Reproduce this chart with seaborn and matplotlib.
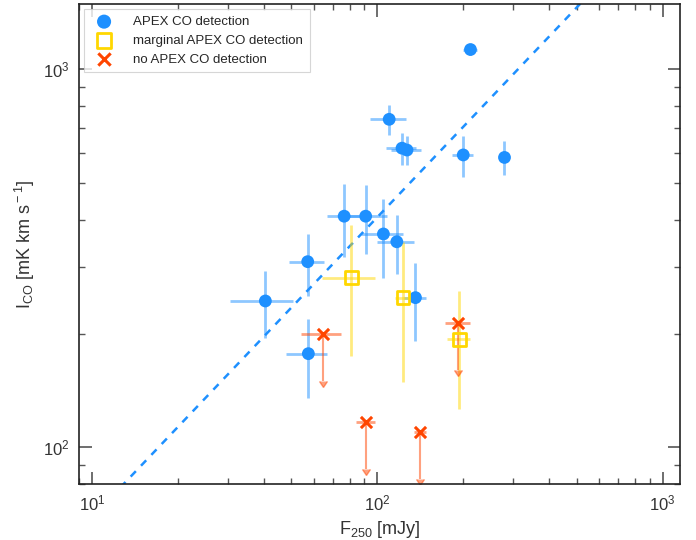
import matplotlib
matplotlib.use('Agg')
import numpy as np
import pandas as pd
import matplotlib.pyplot as plt
import seaborn as sns

# APEX CO detections
det_f250 = [212, 110, 122, 127, 200, 279, 76.5, 91, 105, 117, 57, 40.5, 136, 57.3]
det_f250_err = [12, 16, 15, 15, 17, 5, 10, 17, 17.6, 17.6, 8, 10, 12, 9.3]
det_ico = [1129, 738, 619, 612, 594, 585, 409, 409, 367, 350, 310, 244, 249, 177]
det_ico_err = [40, 69, 60, 55, 74, 60, 90, 85, 86, 63, 58, 49, 58, 42]

# marginal detections
marg_f250 = [81, 123, 194]
marg_f250_err = [17, 8, 18]
marg_ico = [281, 249, 193]
marg_ico_err = [106, 100, 67]

# non detections (upper limits)
nd_f250 = [64.3, 91, 141, 192]
nd_f250_err = [10.5, 7, 7, 20]
nd_ico = [200, 117, 110, 214]

# power law fit  I = A * F^B
fit_A = 10.5
fit_B = 0.794

sns.set_style('ticks')
plt.rcParams['font.family'] = ['Liberation Sans', 'DejaVu Sans']
plt.rcParams['mathtext.fontset'] = 'custom'
plt.rcParams['mathtext.rm'] = 'Liberation Sans'
plt.rcParams['mathtext.it'] = 'Liberation Sans:italic'

blue = '#1E90FF'
gold = '#FFD700'
red = '#FF4500'

fig = plt.figure(figsize=(6.96, 5.4), dpi=100)
ax = fig.add_axes([0.1135, 0.1037, 0.8635, 0.8889])
ax.set_xscale('log')
ax.set_yscale('log')

# fit line
xf = np.logspace(np.log10(9), np.log10(1150), 200)
ax.plot(xf, fit_A * xf ** fit_B, ls=(0, (3, 3)), color=blue, lw=1.8, zorder=1)

# error bars
ax.errorbar(det_f250, det_ico, xerr=det_f250_err, yerr=det_ico_err, fmt='none',
            ecolor=blue, alpha=0.5, elinewidth=2, zorder=2)
ax.errorbar(marg_f250, marg_ico, xerr=marg_f250_err, yerr=marg_ico_err, fmt='none',
            ecolor=gold, alpha=0.5, elinewidth=2, zorder=2)
nd_y = np.array(nd_ico)
ax.errorbar(nd_f250, nd_ico, xerr=nd_f250_err, fmt='none',
            ecolor=red, alpha=0.5, elinewidth=2, zorder=2)
lims = ax.errorbar(nd_f250, nd_ico, yerr=0.25 * nd_y, uplims=True, fmt='none',
                   ecolor=red, alpha=0.5, elinewidth=1.5, zorder=2)
for cap in lims[1]:
    cap.set_color(red)
    cap.set_markerfacecolor(red)
    cap.set_markeredgecolor(red)
    cap.set_alpha(0.5)
    cap.set_markersize(6)

# markers
df_det = pd.DataFrame({'f250': det_f250, 'ico': det_ico})
df_marg = pd.DataFrame({'f250': marg_f250, 'ico': marg_ico})
df_nd = pd.DataFrame({'f250': nd_f250, 'ico': nd_ico})
sns.scatterplot(data=df_det, x='f250', y='ico', ax=ax, marker='o', s=85,
                color=blue, edgecolor='none', label='APEX CO detection', zorder=3)
sns.scatterplot(data=df_marg, x='f250', y='ico', ax=ax, marker='s', s=85,
                facecolor='none', edgecolor=gold, linewidth=2,
                label='marginal APEX CO detection', zorder=3)
sns.scatterplot(data=df_nd, x='f250', y='ico', ax=ax, marker='x', s=65,
                color=red, linewidth=2.2, label='no APEX CO detection', zorder=3)

ax.set_xlim(9, 1150)
ax.set_ylim(80, 1490)
ax.set_xlabel(r'F$_{250}$ [mJy]', fontsize=13, color='#333333')
ax.set_ylabel(r'I$_{\rm CO}$ [mK km s$^{\rm -1}$]', fontsize=13, color='#333333')

ax.tick_params(which='both', direction='in', top=True, right=True, colors='#555555',
               labelcolor='#333333', labelsize=12)
ax.tick_params(which='major', length=9, width=1.2, pad=7)
ax.tick_params(which='minor', length=4.5, width=1)
for s in ax.spines.values():
    s.set_color('#222222')
    s.set_linewidth(1.2)

leg = ax.legend(loc='upper left', fontsize=9.5, frameon=True, fancybox=False,
                borderaxespad=0.4, handletextpad=1.2, borderpad=0.5, markerscale=1.1)
leg.get_frame().set_edgecolor('#cccccc')
leg.get_frame().set_linewidth(0.8)

fig.savefig('out.png', dpi=100)
